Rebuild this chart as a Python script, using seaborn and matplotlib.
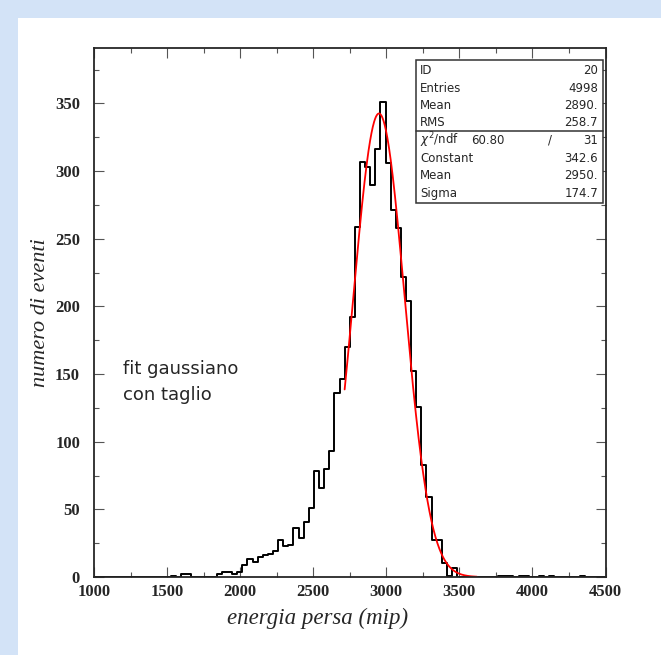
import matplotlib
matplotlib.use("Agg")
import matplotlib.pyplot as plt
from matplotlib.patches import Rectangle
from matplotlib.ticker import MultipleLocator
import numpy as np
import pandas as pd
import seaborn as sns

# histogram: 100 bins of 35 mip from 1000 to 4500
hist_lo, hist_hi, n_bins = 1000, 4500, 100
counts = [0] * 15 + [1, 0, 2, 2, 0, 0, 0, 0, 0,
          2, 4, 4, 2, 4,
          9, 13, 11, 15, 16, 17, 19, 27, 23, 24,
          36, 29, 41, 51, 78, 66, 80, 93,
          136, 146, 170, 192, 259, 307, 303, 290, 316, 351,
          306, 271, 258, 222, 204, 152, 126, 83, 59, 27,
          27, 10, 1, 7,
          0, 0, 0, 0, 0, 0, 0, 0,
          1, 1, 1, 0, 1, 1, 0, 0, 1, 0, 1,
          0, 0, 0, 0, 0, 1, 0, 0, 0, 0]

# gaussian fit parameters (from the stats box)
fit_const, fit_mean, fit_sigma = 342.6, 2950.0, 174.7
fit_lo, fit_hi = 2715, 3620

stats_top = [("ID", "20"), ("Entries", "4998"), ("Mean", "2890."), ("RMS", "258.7")]
chi2_txt, ndf_txt = "60.80", "31"
stats_fit = [("Constant", "342.6"), ("Mean", "2950."), ("Sigma", "174.7")]

edges = np.linspace(hist_lo, hist_hi, n_bins + 1)
df = pd.DataFrame({"energia": (edges[:-1] + edges[1:]) / 2, "n": counts})

sns.set_style("ticks")
plt.rcParams["font.family"] = ["DejaVu Sans"]

fig = plt.figure(figsize=(6.61, 6.55), dpi=100, facecolor="#d3e3f7")
bg = fig.add_axes([18 / 661, 0, 1 - 18 / 661, 1 - 18 / 655], zorder=-10)
bg.axis("off")
bg.add_patch(Rectangle((0, 0), 1, 1, transform=bg.transAxes, facecolor="white", edgecolor="none"))

ax = fig.add_axes([94 / 661, 78 / 655, 511.5 / 661, 529 / 655])
ax.set_facecolor("white")

sns.histplot(data=df, x="energia", weights="n", bins=n_bins, binrange=(hist_lo, hist_hi),
             element="step", fill=False, color="black", linewidth=1.4, ax=ax)

xs = np.linspace(fit_lo, fit_hi, 400)
ys = fit_const * np.exp(-0.5 * ((xs - fit_mean) / fit_sigma) ** 2)
sns.lineplot(x=xs, y=ys, color="red", linewidth=1.3, ax=ax)

ax.set_xlim(hist_lo, hist_hi)
ax.set_ylim(0, 391)
ax.xaxis.set_major_locator(MultipleLocator(500))
ax.xaxis.set_minor_locator(MultipleLocator(250))
ax.yaxis.set_major_locator(MultipleLocator(50))
ax.yaxis.set_minor_locator(MultipleLocator(25))
ax.tick_params(which="both", direction="in", top=True, right=True, width=0.8, color="#555555")
ax.tick_params(which="major", length=7)
ax.tick_params(which="minor", length=3.5)
ax.tick_params(axis="x", pad=5)
ax.tick_params(axis="y", pad=10)
for s in ax.spines.values():
    s.set_linewidth(1.3)
for lab in ax.get_xticklabels() + ax.get_yticklabels():
    lab.set_family("Liberation Serif")
    lab.set_fontweight("bold")
    lab.set_fontsize(12)

ax.set_xlabel("energia persa (mip)", family="Liberation Serif", style="italic", fontsize=16.5)
ax.xaxis.set_label_coords(0.438, -0.058)
ax.set_ylabel("numero di eventi", family="Liberation Serif", style="italic", fontsize=16)
ax.yaxis.set_label_coords(-0.086, 0.5)

# stats box
def ay(py):
    return (577 - py) / 529

bx0, bx1 = (416 - 94) / 511.5, (603 - 94) / 511.5
ax.add_patch(Rectangle((bx0, ay(203)), bx1 - bx0, ay(60) - ay(203), transform=ax.transAxes,
                       facecolor="white", edgecolor="#333333", linewidth=1.1, zorder=5))
ax.plot([bx0, bx1], [ay(131), ay(131)], transform=ax.transAxes, color="#333333", lw=1.1, zorder=6)
xl, xr = (420 - 94) / 511.5, (598 - 94) / 511.5
rows_y = [70, 88, 105, 122]
for (k, v), py in zip(stats_top, rows_y):
    ax.text(xl, ay(py), k, transform=ax.transAxes, fontsize=8.5, va="center", ha="left", zorder=7)
    ax.text(xr, ay(py), v, transform=ax.transAxes, fontsize=8.5, va="center", ha="right", zorder=7)
ax.text(xl, ay(140), r"$\chi^2$/ndf", transform=ax.transAxes, fontsize=8.5, va="center", ha="left", zorder=7)
ax.text((505 - 94) / 511.5, ay(140), chi2_txt, transform=ax.transAxes, fontsize=8.5, va="center", ha="right", zorder=7)
ax.text((550 - 94) / 511.5, ay(140), "/", transform=ax.transAxes, fontsize=8.5, va="center", ha="center", zorder=7)
ax.text(xr, ay(140), ndf_txt, transform=ax.transAxes, fontsize=8.5, va="center", ha="right", zorder=7)
for (k, v), py in zip(stats_fit, [158, 175, 193]):
    ax.text(xl, ay(py), k, transform=ax.transAxes, fontsize=8.5, va="center", ha="left", zorder=7)
    ax.text(xr, ay(py), v, transform=ax.transAxes, fontsize=8.5, va="center", ha="right", zorder=7)

ax.text((123 - 94) / 511.5, ay(382), "fit gaussiano\ncon taglio", transform=ax.transAxes,
        fontsize=13, va="center", ha="left", linespacing=1.5)

fig.savefig("out.png", dpi=100, facecolor=fig.get_facecolor())
